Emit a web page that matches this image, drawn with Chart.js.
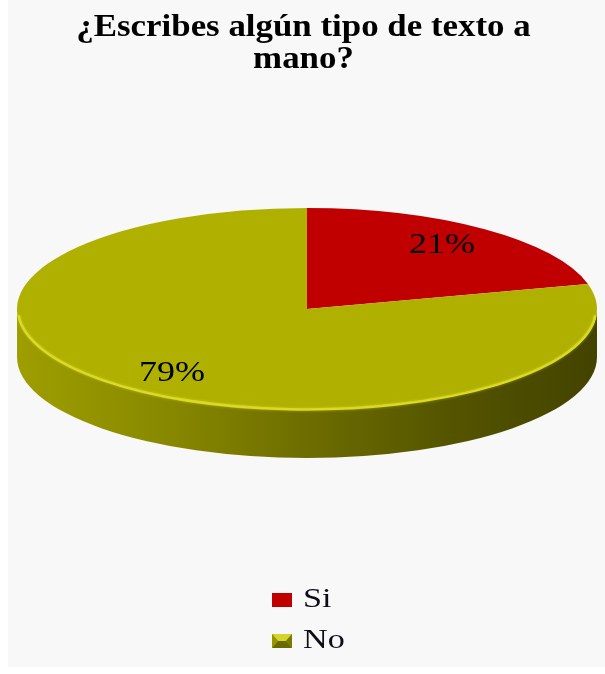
<!DOCTYPE html>
<html>
<head>
<meta charset="utf-8">
<script src="https://cdn.jsdelivr.net/npm/chart.js@4"></script>
<style>
  html, body { margin: 0; padding: 0; background: #ffffff; }
  canvas { display: block; }
</style>
</head>
<body>
<canvas id="chart" width="605" height="674"></canvas>
<script>
// Survey answers
const categories = ['Si', 'No'];
const shares = [21, 79];
const percentLabels = ['21%', '79%'];
const sliceColors = ['#C00000', '#B0B000'];
const titleLines = ['¿Escribes algún tipo de texto a', 'mano?'];

// Tilted disc geometry (canvas pixels)
const DISC = { cx: 307, cy: 309, rx: 290, ry: 101, depth: 48 };

function shade(hex, f) {
  const n = parseInt(hex.slice(1), 16);
  const r = Math.min(255, Math.round(((n >> 16) & 255) * f));
  const g = Math.min(255, Math.round(((n >> 8) & 255) * f));
  const b = Math.min(255, Math.round((n & 255) * f));
  return `rgb(${r},${g},${b})`;
}

const discPlugin = {
  id: 'disc3d',
  beforeDraw(chart) {
    const ctx = chart.ctx;
    ctx.save();
    ctx.fillStyle = '#ffffff';
    ctx.fillRect(0, 0, chart.width, chart.height);
    ctx.fillStyle = '#f8f8f8';
    ctx.fillRect(8, 0, chart.width - 8, chart.height - 7);

    // Two-line heading
    ctx.fillStyle = '#000000';
    ctx.font = 'bold 32px "Liberation Serif"';
    ctx.textAlign = 'center';
    ctx.textBaseline = 'alphabetic';
    const baselines = [36, 68];
    titleLines.forEach((line, i) => {
      ctx.save();
      ctx.translate(chart.width / 2 + 1, baselines[i]);
      ctx.scale(1.09, 1);
      ctx.fillText(line, 0, 0);
      ctx.restore();
    });
    ctx.restore();
  },
  beforeDatasetsDraw(chart) {
    const ctx = chart.ctx;
    const meta = chart.getDatasetMeta(0);
    const { cx, cy, rx, ry, depth } = DISC;

    // Visible wall of each slice (front half of the disc)
    meta.data.forEach((arc, i) => {
      const s = Math.max(arc.startAngle, 0);
      const e = Math.min(arc.endAngle, Math.PI);
      if (e <= s) return;
      const base = chart.data.datasets[0].backgroundColor[i];
      const g = ctx.createLinearGradient(cx - rx, 0, cx + rx, 0);
      g.addColorStop(0, shade(base, 0.9));
      g.addColorStop(0.25, shade(base, 0.78));
      g.addColorStop(0.5, shade(base, 0.62));
      g.addColorStop(0.75, shade(base, 0.48));
      g.addColorStop(1, shade(base, 0.38));
      ctx.save();
      ctx.beginPath();
      ctx.ellipse(cx, cy, rx, ry, 0, s, e, false);
      ctx.ellipse(cx, cy + depth, rx, ry, 0, e, s, true);
      ctx.closePath();
      ctx.fillStyle = g;
      ctx.fill();
      ctx.restore();
    });

    // Flatten the library's circular slices onto the tilted top face
    const a = meta.data[0];
    const R = a.outerRadius;
    ctx.save();
    ctx.translate(cx, cy);
    ctx.scale(rx / R, ry / R);
    ctx.translate(-a.x, -a.y);
  },
  afterDatasetsDraw(chart) {
    const ctx = chart.ctx;
    ctx.restore();
    const meta = chart.getDatasetMeta(0);
    const { cx, cy, rx, ry } = DISC;

    // Bevel highlight along the front rim
    ctx.save();
    ctx.beginPath();
    ctx.ellipse(cx, cy, rx - 1, ry - 0.5, 0, 0.02 * Math.PI, 0.98 * Math.PI);
    ctx.strokeStyle = 'rgba(222,222,40,0.85)';
    ctx.lineWidth = 2.5;
    ctx.shadowColor = 'rgba(230,230,60,0.6)';
    ctx.shadowBlur = 3;
    ctx.stroke();
    ctx.restore();

    // Percentage labels
    ctx.save();
    ctx.fillStyle = '#000000';
    ctx.font = '30px "Liberation Serif"';
    ctx.textAlign = 'center';
    ctx.textBaseline = 'middle';
    meta.data.forEach((arc, i) => {
      const mid = (arc.startAngle + arc.endAngle) / 2;
      const x = cx + rx * 0.76 * Math.cos(mid);
      const y = cy + ry * 0.8 * Math.sin(mid);
      ctx.save();
      ctx.translate(x, y);
      ctx.scale(1.2, 1);
      ctx.fillText(percentLabels[i], 0, 0);
      ctx.restore();
    });
    ctx.restore();

    // Legend
    ctx.save();
    const rows = [600, 641];
    chart.data.labels.forEach((label, i) => {
      const color = chart.data.datasets[0].backgroundColor[i];
      const y = rows[i];
      const x0 = 272, w = 20, h = 14, top = y - 7;
      if (i === 0) {
        ctx.fillStyle = color;
        ctx.fillRect(x0, top, w, h);
      } else {
        // bevelled marker
        const mx = x0 + w / 2, my = top + h / 2;
        ctx.fillStyle = shade(color, 0.9);
        ctx.fillRect(x0, top, w, h);
        ctx.beginPath(); ctx.moveTo(x0, top); ctx.lineTo(x0 + w, top); ctx.lineTo(mx + 4, my); ctx.lineTo(mx - 4, my); ctx.closePath();
        ctx.fillStyle = '#d4d42a'; ctx.fill();
        ctx.beginPath(); ctx.moveTo(x0, top + h); ctx.lineTo(x0 + w, top + h); ctx.lineTo(mx + 4, my); ctx.lineTo(mx - 4, my); ctx.closePath();
        ctx.fillStyle = shade(color, 0.6); ctx.fill();
        ctx.beginPath(); ctx.moveTo(x0, top); ctx.lineTo(x0, top + h); ctx.lineTo(mx - 4, my); ctx.closePath();
        ctx.fillStyle = shade(color, 0.85); ctx.fill();
        ctx.beginPath(); ctx.moveTo(x0 + w, top); ctx.lineTo(x0 + w, top + h); ctx.lineTo(mx + 4, my); ctx.closePath();
        ctx.fillStyle = shade(color, 0.7); ctx.fill();
      }
      ctx.fillStyle = '#0d0d18';
      ctx.font = '28px "Liberation Serif"';
      ctx.textAlign = 'left';
      ctx.textBaseline = 'alphabetic';
      ctx.save();
      ctx.translate(303, y + 7);
      ctx.scale(1.22, 1);
      ctx.fillText(label, 0, 0);
      ctx.restore();
    });
    ctx.restore();
  }
};

new Chart(document.getElementById('chart'), {
  type: 'pie',
  data: {
    labels: categories,
    datasets: [{
      data: shares,
      backgroundColor: sliceColors,
      borderWidth: 0,
      clip: false
    }]
  },
  options: {
    responsive: false,
    animation: false,
    events: [],
    rotation: 0,
    layout: { padding: { left: 20, right: 20, top: 90, bottom: 120 } },
    plugins: {
      legend: { display: false },
      tooltip: { enabled: false },
      title: { display: false }
    }
  },
  plugins: [discPlugin]
});
</script>
</body>
</html>
